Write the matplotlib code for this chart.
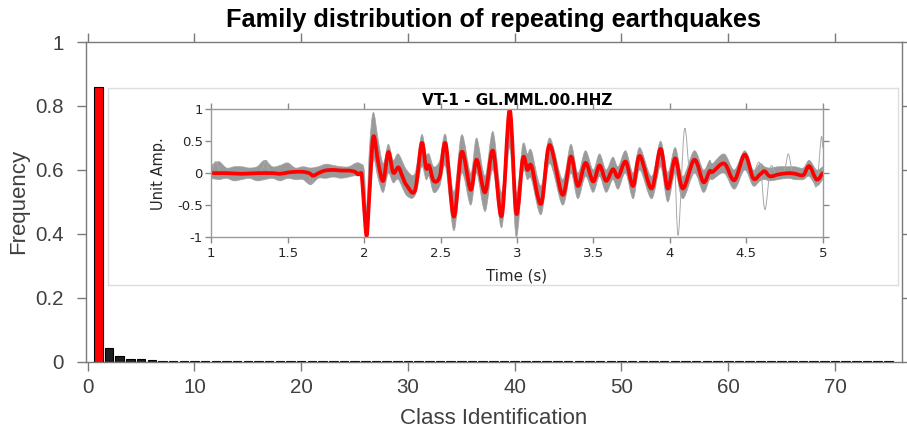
import matplotlib
matplotlib.use('Agg')
import matplotlib.pyplot as plt
from matplotlib.path import Path
from matplotlib.patches import PathPatch

# ---------------- data: main histogram ----------------
class_ids = list(range(1, 76))
frequency = [0.86, 0.042, 0.017, 0.0095, 0.0075, 0.0045, 0.0035, 0.003, 0.0025, 0.0022,
             0.002, 0.0018, 0.0017, 0.0016, 0.0015, 0.0014, 0.0013, 0.0013, 0.0012, 0.0012,
             0.0011, 0.0011, 0.0011, 0.0011, 0.0011, 0.001, 0.001, 0.001, 0.001, 0.001,
             0.001, 0.001, 0.001, 0.001, 0.001, 0.001, 0.001, 0.001, 0.001, 0.001,
             0.001, 0.001, 0.001, 0.001, 0.001, 0.001, 0.001, 0.001, 0.001, 0.001,
             0.001, 0.001, 0.001, 0.001, 0.001, 0.001, 0.001, 0.001, 0.001, 0.001,
             0.001, 0.001, 0.001, 0.001, 0.001, 0.001, 0.001, 0.001, 0.001, 0.001,
             0.001, 0.001, 0.001, 0.001, 0.001]
main_xticks = [0, 10, 20, 30, 40, 50, 60, 70]
main_yticks = [0, 0.2, 0.4, 0.6, 0.8, 1]
main_yticklabels = ['0', '0.2', '0.4', '0.6', '0.8', '1']

# ---------------- data: inset waveforms ----------------
red_t = [1.00, 1.10, 1.20, 1.30, 1.40, 1.45, 1.50, 1.55, 1.60, 1.64, 1.667, 1.70, 1.744,
         1.80, 1.85, 1.90, 1.94, 1.96, 1.975, 1.985, 2.00, 2.017, 2.035, 2.06, 2.093, 2.125,
         2.158, 2.19, 2.224, 2.25, 2.278, 2.333, 2.376, 2.405, 2.425, 2.455, 2.495, 2.533,
         2.587, 2.638, 2.697, 2.736, 2.791, 2.843, 2.90, 2.952, 2.995, 3.038, 3.068, 3.095,
         3.158, 3.213, 3.298, 3.352, 3.398, 3.448, 3.498, 3.54, 3.583, 3.627, 3.662, 3.711,
         3.76, 3.803, 3.881, 3.939, 3.986, 4.035, 4.085, 4.16, 4.219, 4.26, 4.28, 4.356,
         4.422, 4.49, 4.545, 4.59, 4.62, 4.655, 4.71, 4.775, 4.82, 4.873, 4.912, 4.96, 5.00]
red_amp = [0.00, 0.00, -0.01, 0.00, 0.00, -0.01, 0.01, 0.02, 0.02, 0.00, -0.04, 0.00, 0.04,
           0.05, 0.04, 0.04, 0.02, -0.02, 0.00, -0.05, -0.55, -0.98, -0.30, 0.57, 0.15, -0.12,
           0.33, 0.01, 0.09, -0.05, -0.19, -0.27, 0.47, 0.08, 0.12, -0.12, -0.05, 0.46,
           -0.68, 0.33, -0.26, 0.21, -0.30, 0.35, -0.67, 0.99, -0.63, 0.23, 0.05, 0.11,
           -0.48, 0.44, -0.34, 0.26, -0.20, 0.16, -0.13, 0.12, -0.12, 0.06, -0.06, 0.18,
           -0.20, 0.27, -0.24, 0.38, -0.24, 0.23, -0.24, 0.21, -0.14, 0.03, 0.02, 0.15,
           -0.11, 0.29, -0.08, -0.02, 0.03, -0.05, -0.02, 0.00, -0.01, -0.03, 0.11, -0.10, 0.00]

gray_t = [1.00, 1.05, 1.10, 1.15, 1.20, 1.25, 1.30, 1.35, 1.40, 1.45, 1.50, 1.55, 1.60, 1.65,
          1.70, 1.75, 1.80, 1.85, 1.90, 1.95, 1.98, 2.00, 2.017, 2.035, 2.06, 2.093, 2.125,
          2.158, 2.19, 2.224, 2.278, 2.333, 2.376, 2.405, 2.425, 2.455, 2.495, 2.533, 2.587,
          2.638, 2.697, 2.736, 2.791, 2.843, 2.90, 2.952, 2.995, 3.038, 3.068, 3.095, 3.158,
          3.213, 3.298, 3.352, 3.398, 3.448, 3.498, 3.54, 3.583, 3.627, 3.662, 3.711, 3.76,
          3.803, 3.881, 3.939, 3.986, 4.035, 4.085, 4.16, 4.219, 4.26, 4.28, 4.356, 4.422,
          4.49, 4.545, 4.59, 4.62, 4.655, 4.71, 4.775, 4.82, 4.873, 4.912, 4.96, 5.00]
gray_lo = [-0.08, -0.10, -0.08, -0.12, -0.10, -0.08, -0.12, -0.10, -0.08, -0.12, -0.08, -0.10,
           -0.10, -0.18, -0.08, -0.08, -0.06, -0.08, -0.06, -0.04, -0.10, -0.80, -1.00, -0.60,
           0.20, -0.10, -0.30, 0.00, -0.15, -0.10, -0.35, -0.35, 0.10, -0.10, -0.05, -0.30,
           -0.20, 0.10, -0.90, 0.00, -0.50, 0.00, -0.60, 0.05, -0.85, 0.40, -1.00, 0.00,
           -0.10, -0.10, -0.65, 0.15, -0.50, 0.00, -0.40, -0.05, -0.30, -0.05, -0.30, -0.10,
           -0.25, 0.00, -0.40, 0.05, -0.40, 0.10, -0.45, 0.00, -0.40, 0.00, -0.30, -0.10,
           -0.10, 0.00, -0.25, 0.05, -0.20, -0.12, -0.10, -0.12, -0.10, -0.08, -0.10, -0.10,
           -0.05, -0.20, -0.10]
gray_hi = [0.12, 0.18, 0.08, 0.10, 0.10, 0.08, 0.10, 0.20, 0.10, 0.12, 0.16, 0.08, 0.10, 0.08,
           0.10, 0.14, 0.12, 0.10, 0.10, 0.16, 0.14, 0.05, -0.55, 0.40, 0.95, 0.50, 0.15, 0.45,
           0.20, 0.30, 0.05, 0.00, 0.60, 0.30, 0.30, 0.10, 0.20, 0.60, -0.30, 0.60, 0.00, 0.55,
           -0.05, 0.65, -0.30, 1.00, -0.30, 0.45, 0.30, 0.35, -0.20, 0.55, -0.10, 0.45, 0.00,
           0.35, 0.05, 0.30, 0.05, 0.25, 0.10, 0.35, 0.00, 0.40, -0.05, 0.50, 0.00, 0.40, -0.05,
           0.35, 0.05, 0.20, 0.15, 0.30, 0.05, 0.35, 0.05, 0.15, 0.10, 0.08, 0.10, 0.10, 0.10,
           0.08, 0.20, 0.05, 0.10]

# a few individual outlying grey traces
out1_t = [3.98, 4.00, 4.03, 4.055, 4.095, 4.13, 4.17]
out1_a = [0.00, 0.05, 0.20, -0.97, 0.68, 0.00, 0.10]
out2_t = [4.55, 4.59, 4.622, 4.66, 4.70, 4.75, 4.775, 4.80]
out2_a = [0.00, 0.15, -0.57, 0.10, -0.05, 0.05, 0.30, 0.00]
out3_t = [4.90, 4.93, 4.96, 4.99, 5.00]
out3_a = [0.05, 0.00, -0.20, 0.55, 0.40]
out4_t = [1.00, 1.03, 1.06, 1.10, 1.30, 1.33, 1.36, 1.40, 1.62, 1.65, 1.68, 1.72]
out4_a = [0.05, 0.18, 0.02, 0.00, 0.00, 0.05, 0.20, 0.00, 0.00, -0.18, 0.00, 0.02]

inset_xticks = [1, 1.5, 2, 2.5, 3, 3.5, 4, 4.5, 5]
inset_xticklabels = ['1', '1.5', '2', '2.5', '3', '3.5', '4', '4.5', '5']
inset_yticks = [-1, -0.5, 0, 0.5, 1]
inset_yticklabels = ['-1', '-0.5', '0', '0.5', '1']


def smooth_path(xs, ys):
    """Cubic Bezier path passing through the given points (Catmull-Rom style)."""
    n = len(xs)
    verts = [(xs[0], ys[0])]
    codes = [Path.MOVETO]
    for i in range(n - 1):
        i0 = max(i - 1, 0)
        i3 = min(i + 2, n - 1)
        c1 = (xs[i] + (xs[i + 1] - xs[i0]) / 6.0, ys[i] + (ys[i + 1] - ys[i0]) / 6.0)
        c2 = (xs[i + 1] - (xs[i3] - xs[i]) / 6.0, ys[i + 1] - (ys[i3] - ys[i]) / 6.0)
        verts += [c1, c2, (xs[i + 1], ys[i + 1])]
        codes += [Path.CURVE4] * 3
    return Path(verts, codes)


def smooth_band(xs, lo, hi):
    up = smooth_path(xs, hi)
    dn = smooth_path(xs[::-1], lo[::-1])
    verts = list(up.vertices) + [(xs[-1], lo[-1])] + list(dn.vertices[1:]) + [(xs[0], hi[0])]
    codes = list(up.codes) + [Path.LINETO] + list(dn.codes[1:]) + [Path.LINETO]
    return Path(verts, codes)


# ---------------- figure ----------------
W, H = 907, 428
fig = plt.figure(figsize=(W / 100, H / 100), dpi=100)


def fx(px):
    return px / W


def fy(py):
    return 1 - py / H


MAIN_FONT = 'Liberation Sans'
spine_c = '#7a7a7a'
text_c = '#404040'

ax = fig.add_axes([fx(85.7), fy(361.7), fx(901.7) - fx(85.7), fy(42) - fy(361.7)])
bar_colors = ['#ff0000'] + ['#1e1e1e'] * (len(class_ids) - 1)
ax.bar(class_ids, frequency, width=0.8, color=bar_colors, edgecolor='black', linewidth=0.8)
ax.set_xlim(-0.19, 76.25)
ax.set_ylim(0, 1)
ax.set_xticks(main_xticks)
ax.set_xticklabels([str(v) for v in main_xticks], fontfamily=MAIN_FONT)
ax.set_yticks(main_yticks)
ax.set_yticklabels(main_yticklabels, fontfamily=MAIN_FONT)
ax.tick_params(axis='both', direction='out', length=6.5, width=1, colors=spine_c,
               labelcolor=text_c, labelsize=14.8, top=True, right=True)
ax.tick_params(axis='x', pad=5)
ax.tick_params(axis='y', pad=9)
for s in ax.spines.values():
    s.set_color(spine_c)
    s.set_linewidth(1)
ax.set_xlabel('Class Identification', fontsize=16, color=text_c, fontfamily=MAIN_FONT,
              va='baseline')
ax.xaxis.set_label_coords(0.5, (361.7 - 423.5) / 319.7)
ax.set_ylabel('Frequency', fontsize=16, color=text_c, fontfamily=MAIN_FONT, va='center')
ax.yaxis.set_label_coords((18.5 - 85.7) / 816, 0.5)
ax.set_title('Family distribution of repeating earthquakes', fontsize=18.3,
             fontweight='bold', fontfamily=MAIN_FONT, color='black',
             y=(361.7 - 26.7) / 319.7, pad=0)

# inset frame (pasted figure)
fr = fig.add_axes([fx(108), fy(285), fx(898) - fx(108), fy(87.7) - fy(285)])
fr.set_xticks([])
fr.set_yticks([])
fr.set_facecolor('white')
for s in fr.spines.values():
    s.set_color('#dedede')
    s.set_linewidth(1)

# inset axes
ia = fig.add_axes([fx(211.3), fy(237), fx(822.7) - fx(211.3), fy(109.3) - fy(237)])
ia.add_patch(PathPatch(smooth_band(gray_t, gray_lo, gray_hi), facecolor='#888888',
                       edgecolor='#a0a0a0', linewidth=0.6, alpha=0.85))
for tt, aa in [(out1_t, out1_a), (out2_t, out2_a), (out3_t, out3_a), (out4_t, out4_a)]:
    ia.add_patch(PathPatch(smooth_path(tt, aa), facecolor='none', edgecolor='#a8a8a8',
                           linewidth=0.7))
ia.add_patch(PathPatch(smooth_path(red_t, red_amp), facecolor='none', edgecolor='#ff0000',
                       linewidth=2.7, joinstyle='round', capstyle='round'))
ia.set_xlim(1, 5)
ia.set_ylim(-1, 1)
ia.set_xticks(inset_xticks)
ia.set_xticklabels(inset_xticklabels)
ia.set_yticks(inset_yticks)
ia.set_yticklabels(inset_yticklabels)
ia.tick_params(axis='both', direction='out', length=4.5, width=1, colors='#8a8a8a',
               labelcolor='#262626', labelsize=9.5, top=True, right=True)
ia.tick_params(axis='x', pad=3)
ia.tick_params(axis='y', pad=1.5)
for s in ia.spines.values():
    s.set_color('#9a9a9a')
    s.set_linewidth(1)
ia.set_xlabel('Time (s)', fontsize=10.8, color='#262626', va='baseline')
ia.xaxis.set_label_coords(0.5, (237 - 280.5) / 127.7)
ia.set_ylabel('Unit Amp.', fontsize=10.5, color='#262626', va='center')
ia.yaxis.set_label_coords((159 - 211.3) / 611.4, 0.5)
ia.set_title('VT-1 - GL.MML.00.HHZ', fontsize=11, fontweight='bold', color='black',
             y=(237 - 105) / 127.7, pad=0)

fig.savefig('out.png', dpi=100)
